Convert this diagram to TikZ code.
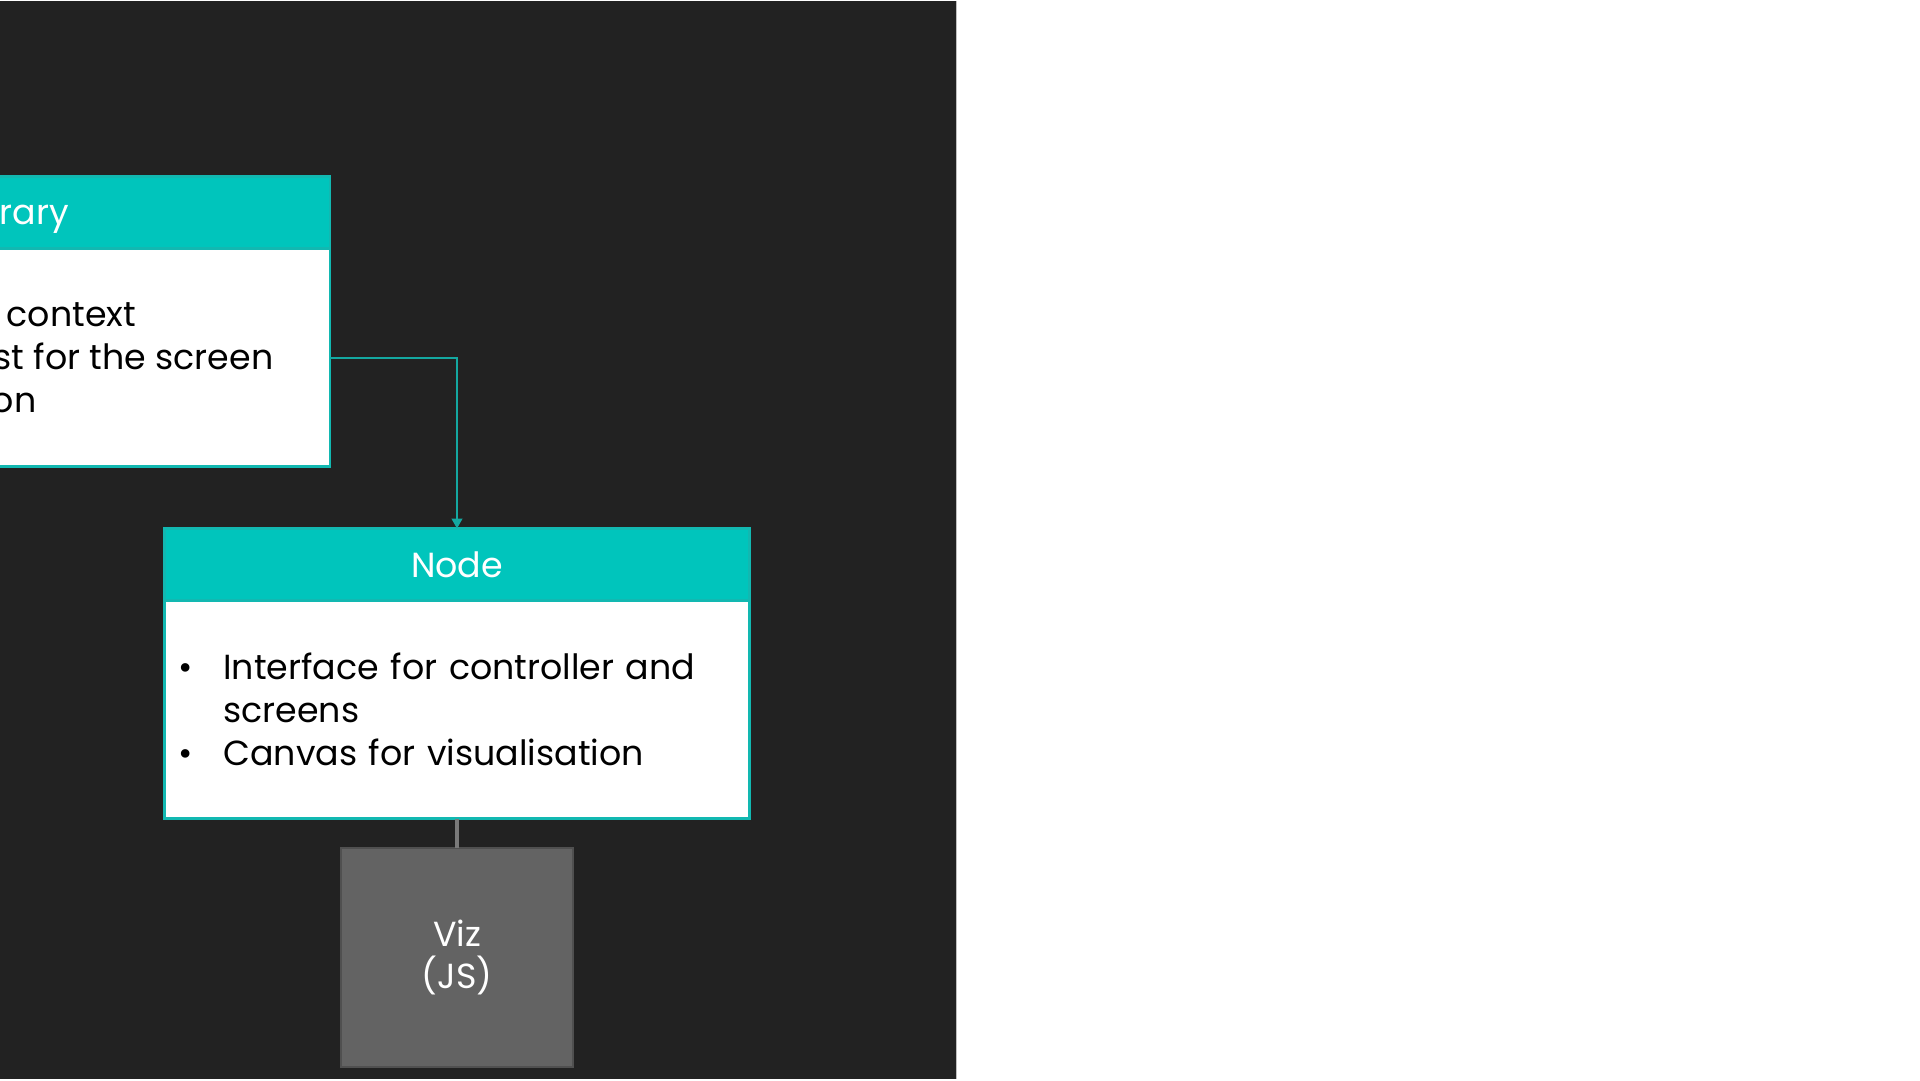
\documentclass[tikz,border=0pt]{standalone}
\usepackage{fontspec}
\setmainfont{Poppins}
\usetikzlibrary{arrows.meta}
\definecolor{slatebg}{HTML}{222222}
\definecolor{headcyan}{HTML}{00C5BC}
\definecolor{edgecyan}{HTML}{12B8B1}
\definecolor{linkcyan}{HTML}{14A8A1}
\definecolor{vizgrey}{HTML}{636363}
\definecolor{vizedge}{HTML}{505050}
\definecolor{linkgrey}{HTML}{7A7A7A}
\newcommand{\bul}{\makebox[12.8pt][l]{\textbullet}}
\begin{document}
\begin{tikzpicture}[x=0.01cm, y=-0.01cm, >={Triangle[length=2.8pt,width=3pt]},
	font=\fontsize{9.9}{12.2}\selectfont,
	headbox/.style={draw=edgecyan, line width=0.8pt, fill=headcyan, text=white,
		minimum width=5.85cm, minimum height=0.72cm, inner sep=0pt, outer sep=0pt},
	bodybox/.style={draw=edgecyan, line width=0.8pt, fill=white, text=black,
		minimum width=5.85cm, minimum height=2.18cm, inner xsep=0.14cm, outer sep=0pt,
		text width=5.57cm, align=left},
	vizbox/.style={draw=vizedge, line width=0.6pt, fill=vizgrey, text=white,
		minimum width=2.32cm, minimum height=2.19cm, outer sep=0pt, align=center},
	link/.style={linkcyan, line width=0.55pt},
	vizlink/.style={linkgrey, line width=0.9pt}]
	
	% canvas
	\fill[white] (0,0) rectangle (1920,1080);
	\fill[slatebg] (0,0) rectangle (956,1078);
	\draw[black!25, line width=0.3pt] (956.5,0) -- (956.5,1078);
	
	% library box, cut by the slide edge
	\begin{scope}
		\clip (0,0) rectangle (956,1078);
		\node[headbox, anchor=north east] (libhead) at (330,176) {};
		\node[bodybox, anchor=north] (libbody) at (libhead.south) {};
		\node[anchor=base west, text=white, inner sep=0pt] (libtitle) at (-1,224) {rary};
		\node[anchor=base west, inner sep=0pt] (libline1) at (6,326) {context};
		\node[anchor=base west, inner sep=0pt] (libline2) at (-7,369) {st for the screen};
		\node[anchor=base east, inner sep=0pt] (libline3) at (37,412) {on};
	\end{scope}
	
	% node box
	\node[headbox, anchor=north] (nodehead) at (457,528) {Node};
	\node[bodybox, anchor=north] (nodebody) at (nodehead.south)
	{\bul Interface for controller and\\ \hspace{12.8pt}screens\\ \bul Canvas for visualisation};
	
	% viz
	\node[vizbox] (viz) at (457,957) {Viz\\(JS)};
	
	\draw[link, ->] (libbody.east) -| (nodehead.north);
	\draw[vizlink] (nodebody.south) -- (viz.north);
	
\end{tikzpicture}
\end{document}
